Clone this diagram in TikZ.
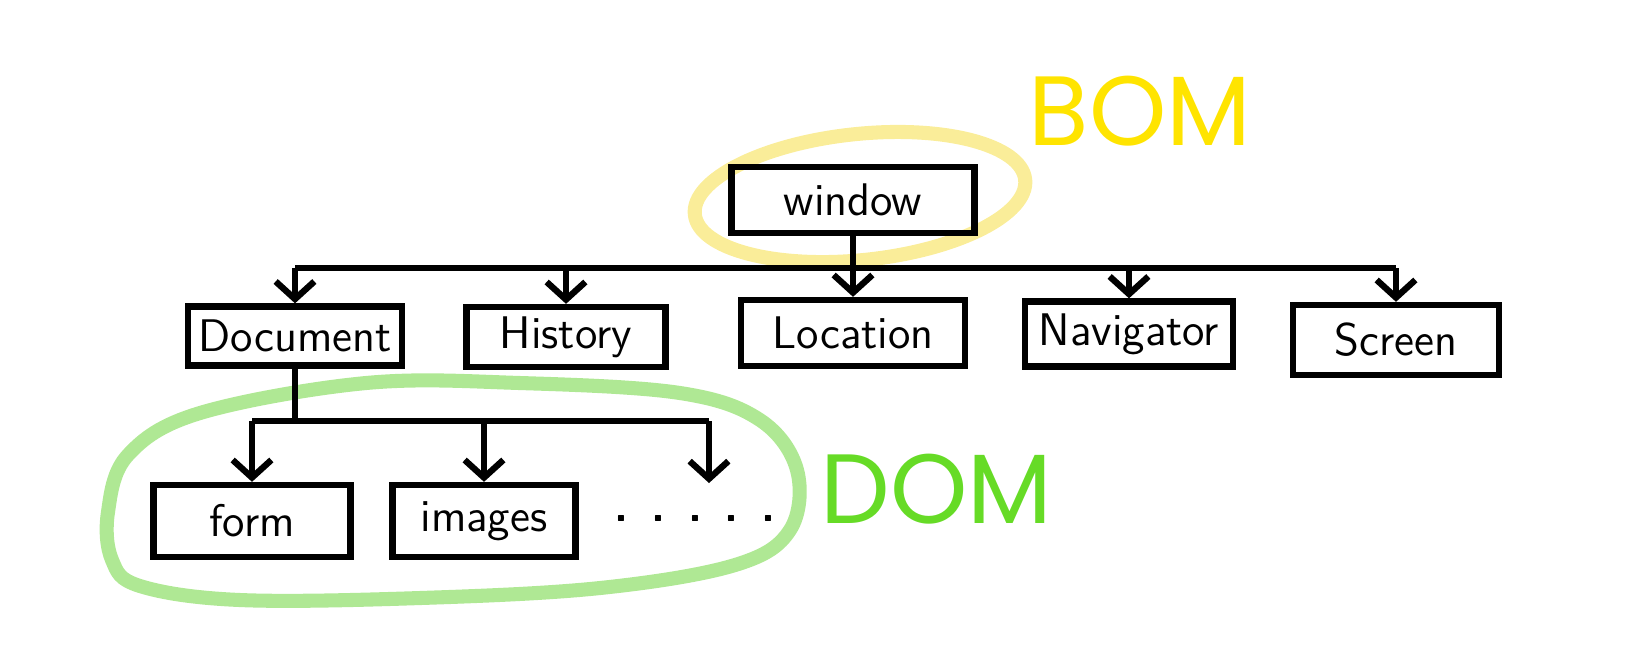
\documentclass[tikz,border=0pt]{standalone}
\usepackage{fontspec}
\newfontfamily\tagfont{Poppins}
\usetikzlibrary{arrows.meta}
\definecolor{bomyellow}{RGB}{255,228,0}
\definecolor{domgreen}{RGB}{102,219,38}
\definecolor{crayonyellow}{RGB}{246,222,70}
\definecolor{crayongreen}{RGB}{110,214,60}

\begin{document}
\begin{tikzpicture}[x=0.01cm, y=-0.01cm,
    box/.style={draw, line width=1.8pt, inner sep=0pt, font=\sffamily\fontsize{13}{13}\selectfont},
    wire/.style={line width=1.8pt},
    arr/.style={wire, -{Straight Barb[length=5pt,width=11pt,line width=1.8pt]}},
    ring/.style={line width=4pt, opacity=0.55},
    tag/.style={anchor=base west, inner sep=0pt, font=\tagfont\fontsize{28}{28}\selectfont}]
  \useasboundingbox (0,0) rectangle (1627,653);

  % crayon rings
  \draw[ring, crayonyellow, rotate around={6:(860,197)}] (860,197) ellipse [x radius=1.66cm, y radius=0.63cm];
  \draw[ring, crayongreen] plot[smooth cycle, tension=0.6] coordinates {
    (108,512) (128,455) (200,413) (366,383) (520,383) (680,393) (760,420) (797,470)
    (790,530) (735,565) (600,588) (420,598) (240,600) (140,586) (112,560)};

  \node[box, minimum width=2.43cm, minimum height=0.66cm] (window) at (853,200) {window};
  \foreach \name/\x/\y/\w/\h in {Document/295/336/2.14/0.59, History/566/337/1.99/0.60,
      Location/853/333/2.24/0.66, Navigator/1129/334/2.08/0.65, Screen/1396/340/2.06/0.70} {
    \node[box, minimum width=\w cm, minimum height=\h cm] (\name) at (\x,\y) {\name};
  }
  \node[box, minimum width=1.97cm, minimum height=0.72cm] (form) at (252,521) {form};
  \node[box, minimum width=1.83cm, minimum height=0.72cm] (images) at (484,521) {images};
  \node[font=\sffamily\bfseries\fontsize{13}{13}\selectfont] (dots) at (695,518) {.\enspace.\enspace.\enspace.\enspace.};

  \coordinate (bus) at (0,268);
  \coordinate (sub) at (0,421);
  \coordinate (etc) at (709,483);

  \draw[wire] (window.south) -- (window.south |- bus);
  \draw[wire] (Document.north |- bus) -- (Screen.north |- bus);
  \foreach \name in {Document, History, Location, Navigator, Screen}
    \draw[arr] (\name.north |- bus) -- (\name.north);

  \draw[wire] (Document.south) -- (Document.south |- sub);
  \draw[wire] (form.north |- sub) -- (etc |- sub);
  \foreach \name in {form, images}
    \draw[arr] (\name.north |- sub) -- (\name.north);
  \draw[arr] (etc |- sub) -- (etc);

  \node[tag, text=bomyellow] (bom) at (1028,145) {BOM};
  \node[tag, text=domgreen] (dom) at (820,523) {DOM};
\end{tikzpicture}
\end{document}
